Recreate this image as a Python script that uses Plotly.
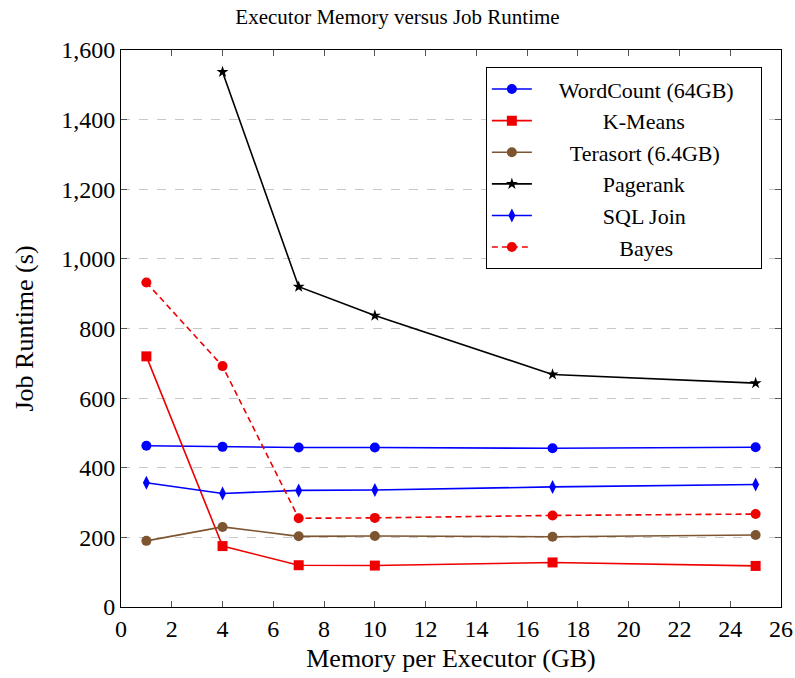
import plotly.graph_objects as go

mem = [1, 4, 7, 10, 17, 25]
mem_pagerank = [4, 7, 10, 17, 25]
wordcount = [463, 460, 458, 458, 456, 459]
kmeans = [720, 175, 120, 119, 128, 118]
terasort = [190, 230, 203, 204, 202, 207]
pagerank = [1537, 920, 837, 668, 643]
sqljoin = [357, 326, 335, 336, 345, 352]
bayes = [932, 692, 255, 256, 263, 267]

names = ["WordCount (64GB)", "K-Means", "Terasort (6.4GB)", "Pagerank", "SQL Join", "Bayes"]
pads = [4, 12, 6, 12, 12, 15]

FONT = "Liberation Serif"
fig = go.Figure()

def add(i, x, y, color, symbol, dash="solid", size=9):
    label = "\u00a0" * pads[i] + names[i] + ("\u00a0" * 4 if i == 0 else "")
    fig.add_trace(go.Scatter(
        x=x, y=y, name=label, mode="lines+markers",
        line=dict(color=color, width=1.6, dash=dash),
        marker=dict(symbol=symbol, size=size, color=color,
                    line=dict(width=0)),
    ))

add(0, mem, wordcount, "#0000ff", "circle", size=10)
add(1, mem, kmeans, "#ee0000", "square", size=10)
add(2, mem, terasort, "#7d5530", "circle", size=10)
add(3, mem_pagerank, pagerank, "#000000", "star", size=9)
add(4, mem, sqljoin, "#0000ff", "diamond-tall", size=10)
add(5, mem, bayes, "#ee0000", "circle", dash="6px,4px", size=10)

tickf = dict(family=FONT, size=24, color="black")
titlef = dict(family=FONT, size=26, color="black")
fig.update_layout(
    width=795, height=678,
    margin=dict(l=121, r=14, t=50, b=71),
    paper_bgcolor="white", plot_bgcolor="white",
    font=dict(family=FONT, size=24, color="black"),
    title=dict(text="Executor Memory versus Job Runtime", x=0.5, xanchor="center",
               y=0.975, yanchor="middle", font=dict(family=FONT, size=21, color="black"),
               automargin=False),
    showlegend=True,
    legend=dict(x=0.971, xanchor="right", y=0.969, yanchor="top",
                bordercolor="black", borderwidth=1, bgcolor="white",
                font=dict(family=FONT, size=22, color="black"),
                tracegroupgap=0, itemwidth=40),
)
fig.update_xaxes(
    range=[0, 26], tickvals=list(range(0, 27, 2)), tickfont=tickf, automargin=False,
    ticks="inside", ticklen=6, tickcolor="#555", mirror="ticks",
    showline=True, linecolor="black", linewidth=1, showgrid=False, zeroline=False,
    title=dict(text="Memory per Executor (GB)", standoff=8, font=titlef),
)
fig.update_yaxes(
    range=[0, 1600], tickvals=list(range(0, 1601, 200)), tickformat=",d", tickfont=tickf,
    automargin=False,
    ticks="inside", ticklen=6, tickcolor="#555", mirror="ticks",
    showline=True, linecolor="black", linewidth=1,
    showgrid=True, gridcolor="#c8c8c8", griddash="dash", gridwidth=1, zeroline=False,
    title=dict(text="Job Runtime (s)", standoff=20, font=titlef),
)
fig.write_html("out.html")
